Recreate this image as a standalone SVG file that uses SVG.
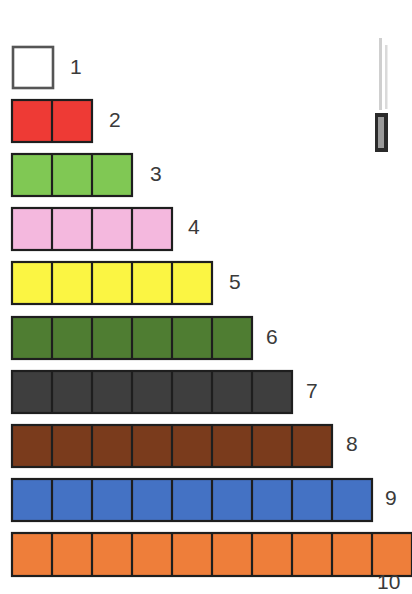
<svg xmlns="http://www.w3.org/2000/svg" width="412" height="594" viewBox="0 0 412 594">
<style>
.sq{stroke:#1e1e1e;stroke-width:2.2}
.lbl{font-family:"Liberation Sans",Arial,sans-serif;font-size:21px;fill:#3a3a3a}
</style>
<rect width="412" height="594" fill="#ffffff"/>
<g id="mark">
<rect x="379" y="38" width="3" height="72" fill="#cfcfcf"/>
<rect x="385" y="45" width="2.5" height="64" fill="#dadada"/>
<rect x="375" y="113" width="13" height="39" fill="#2a2a2a"/>
<rect x="378" y="117" width="6" height="31" fill="#9a9a9a"/>
</g>
<g id="row1"><rect x="13" y="47" width="40" height="41" fill="#ffffff" stroke="#555" stroke-width="2.6"/><text class="lbl" x="70" y="74">1</text></g>
<g id="row2"><rect class="sq" x="12" y="100" width="80" height="42" fill="#ee3a35"/><line class="sq" x1="52" y1="100" x2="52" y2="142"/><text class="lbl" x="109" y="127">2</text></g>
<g id="row3"><rect class="sq" x="12" y="154" width="120" height="42" fill="#80c854"/><path class="sq" d="M52 154V196M92 154V196"/><text class="lbl" x="150" y="181">3</text></g>
<g id="row4"><rect class="sq" x="12" y="208" width="160" height="42" fill="#f4b8de"/><path class="sq" d="M52 208V250M92 208V250M132 208V250"/><text class="lbl" x="188" y="234">4</text></g>
<g id="row5"><rect class="sq" x="12" y="262" width="200" height="42" fill="#fbf543"/><path class="sq" d="M52 262V304M92 262V304M132 262V304M172 262V304"/><text class="lbl" x="229" y="289">5</text></g>
<g id="row6"><rect class="sq" x="12" y="317" width="240" height="42" fill="#4f7d32"/><path class="sq" d="M52 317V359M92 317V359M132 317V359M172 317V359M212 317V359"/><text class="lbl" x="266" y="344">6</text></g>
<g id="row7"><rect class="sq" x="12" y="371" width="280" height="42" fill="#3e3e3e"/><path class="sq" d="M52 371V413M92 371V413M132 371V413M172 371V413M212 371V413M252 371V413"/><text class="lbl" x="306" y="398">7</text></g>
<g id="row8"><rect class="sq" x="12" y="425" width="320" height="42" fill="#7a3b1c"/><path class="sq" d="M52 425V467M92 425V467M132 425V467M172 425V467M212 425V467M252 425V467M292 425V467"/><text class="lbl" x="346" y="451">8</text></g>
<g id="row9"><rect class="sq" x="12" y="479" width="360" height="42" fill="#4472c4"/><path class="sq" d="M52 479V521M92 479V521M132 479V521M172 479V521M212 479V521M252 479V521M292 479V521M332 479V521"/><text class="lbl" x="385" y="505">9</text></g>
<g id="row10"><rect class="sq" x="12" y="533" width="400" height="43" fill="#ee7e3a"/><path class="sq" d="M52 533V576M92 533V576M132 533V576M172 533V576M212 533V576M252 533V576M292 533V576M332 533V576M372 533V576"/><text class="lbl" x="377" y="589" font-size="20">10</text></g>
</svg>
